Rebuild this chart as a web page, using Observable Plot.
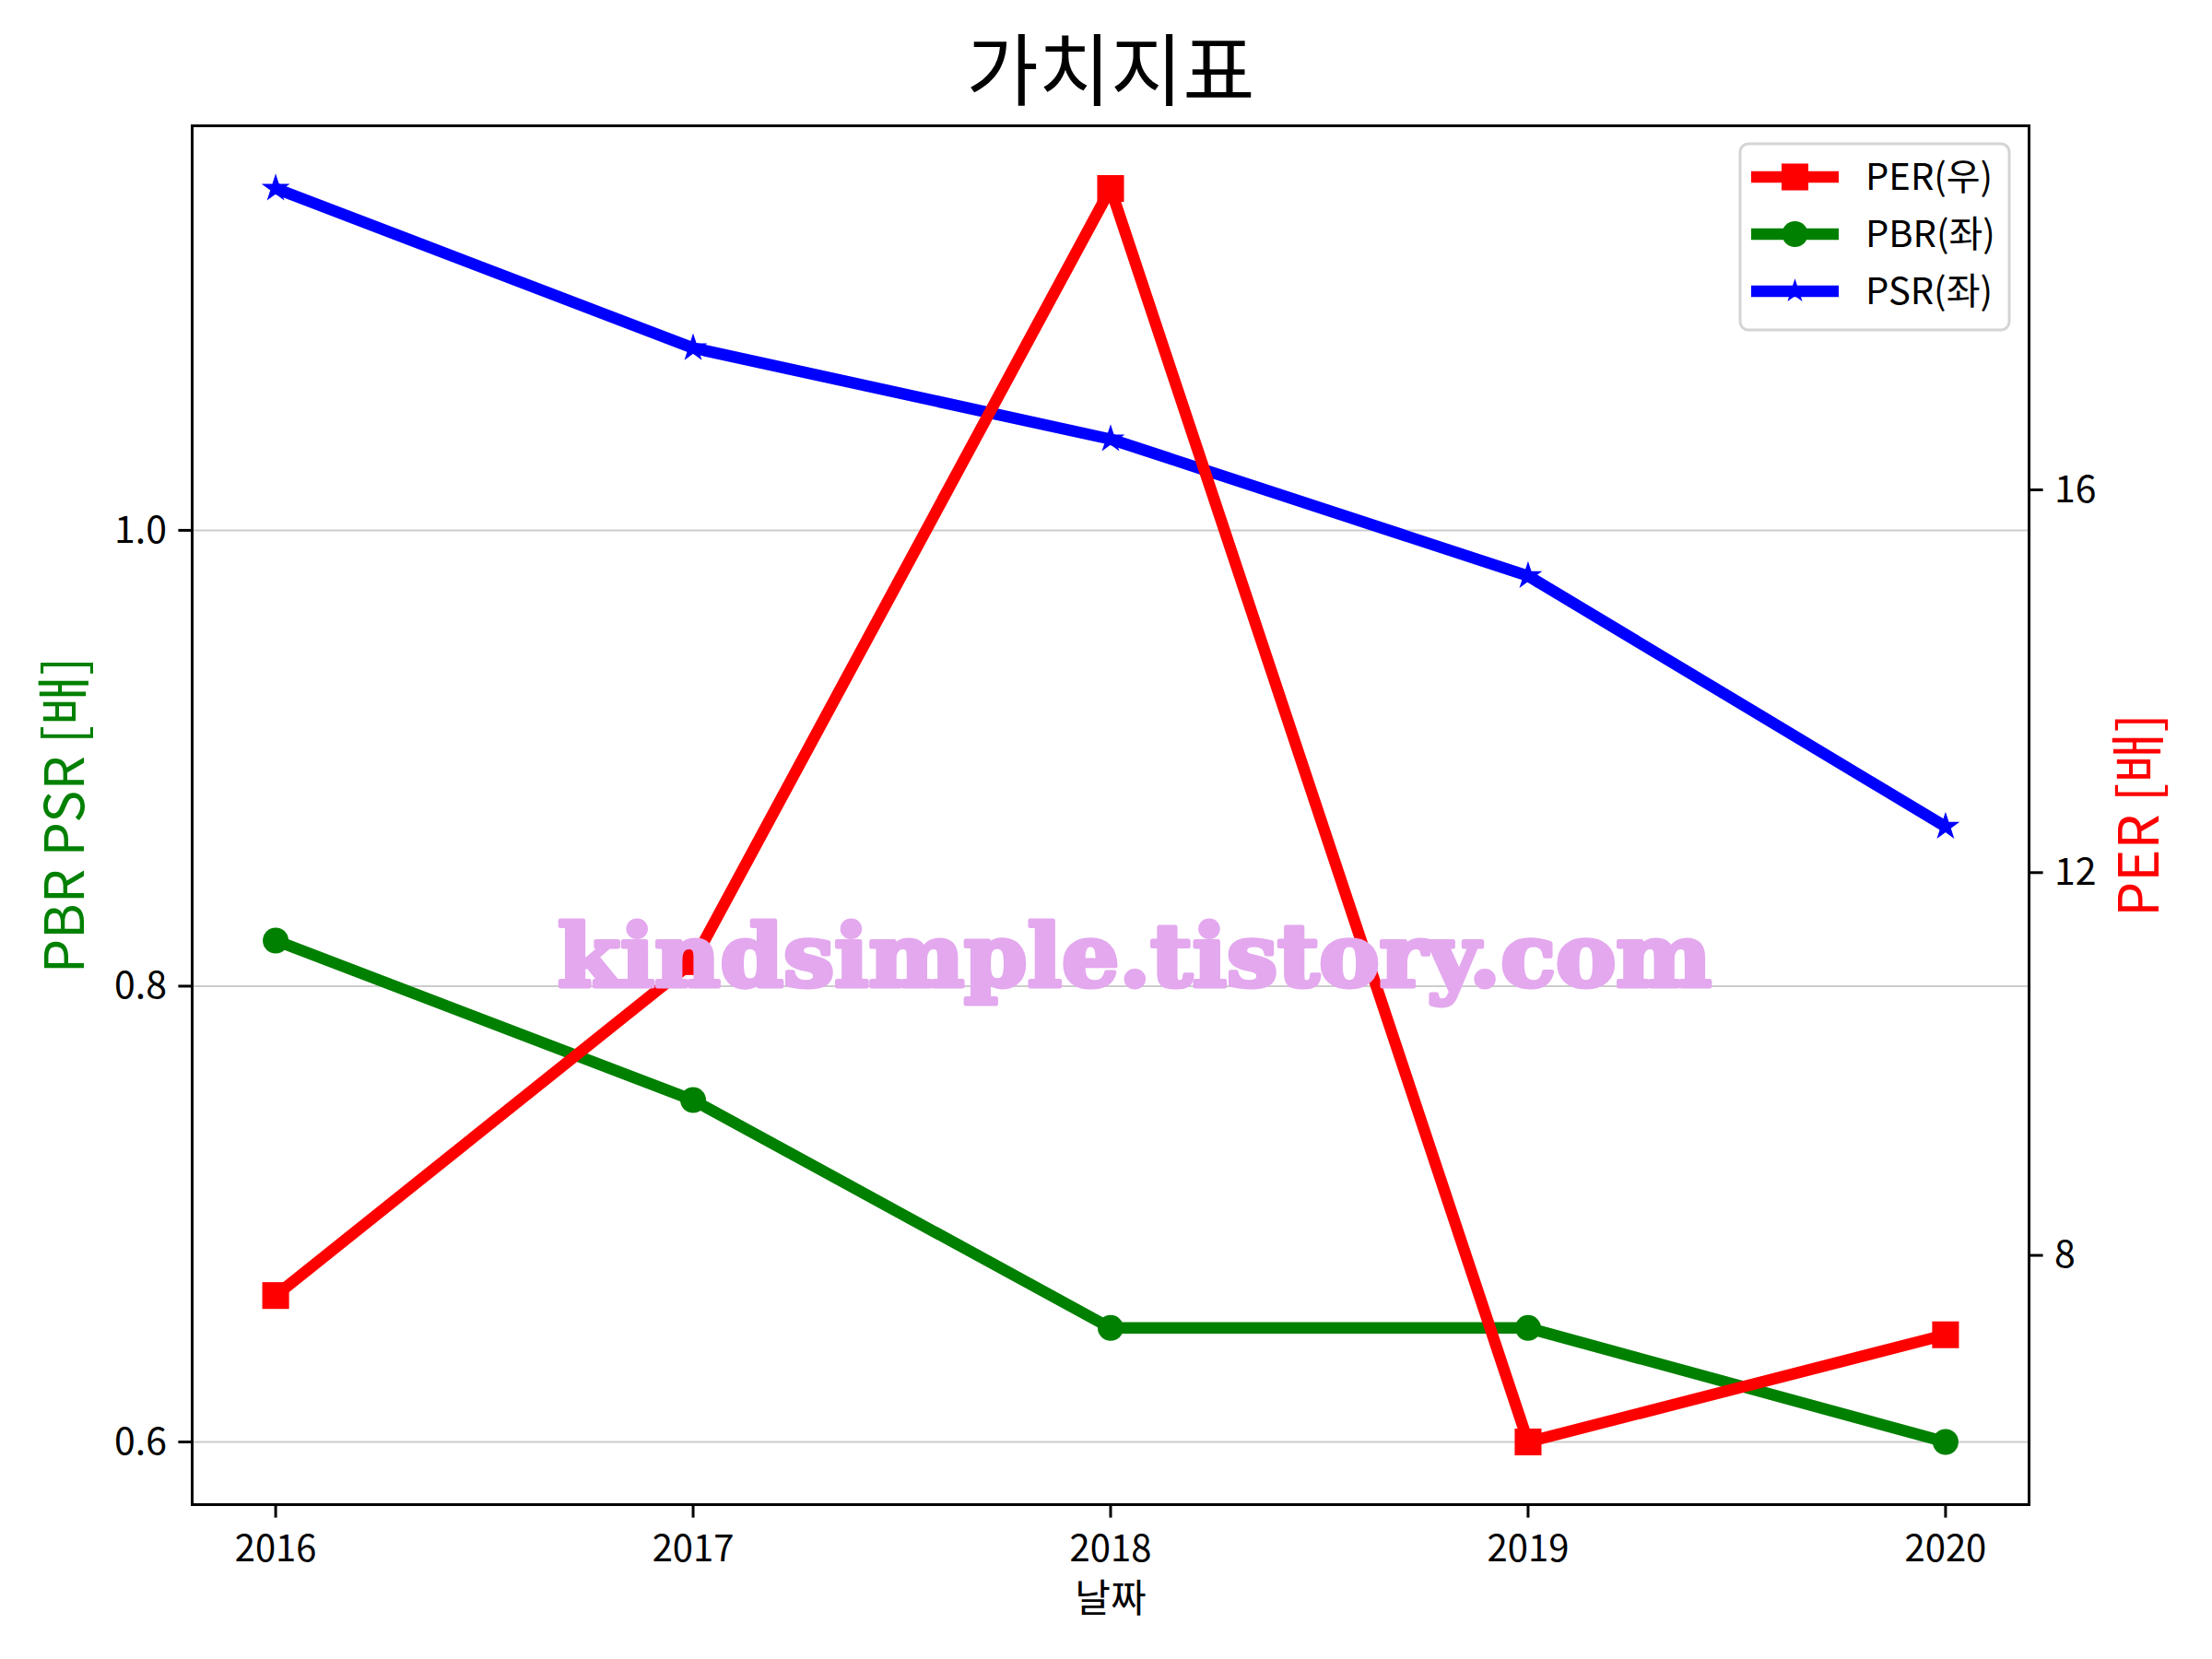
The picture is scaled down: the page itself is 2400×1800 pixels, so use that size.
<!DOCTYPE html>
<html>
<head>
<meta charset="utf-8">
<script src="https://cdn.jsdelivr.net/npm/d3@7"></script>
<script src="https://cdn.jsdelivr.net/npm/@observablehq/plot@0.6"></script>
<style>
  html, body { margin: 0; padding: 0; background: #ffffff; }
  #chart { width: 2400px; height: 1800px; }
</style>
</head>
<body>
<div id="chart"></div>
<script>
// ---- data ----
const years = [2016, 2017, 2018, 2019, 2020];
const perValues = [7.58, 11.07, 19.15, 6.05, 7.17];   // right axis
const pbrValues = [0.82, 0.75, 0.65, 0.65, 0.60];     // left axis
const psrValues = [1.15, 1.08, 1.04, 0.98, 0.87];     // left axis
const leftTicks = [0.6, 0.8, 1.0];
const rightTicks = [8, 12, 16];
const titleText = "가치지표";
const xLabel = "날짜";
const leftLabel = "PBR PSR [배]";
const rightLabel = "PER [배]";
const seriesNames = ["PER(우)", "PBR(좌)", "PSR(좌)"];
const watermark = "kindsimple.tistory.com";

// ---- scales (matplotlib-style 5% margins) ----
function padded(vals) {
  const lo = d3.min(vals), hi = d3.max(vals), p = 0.05 * (hi - lo);
  return [lo - p, hi + p];
}
const xDom = padded(years);
const yDom = padded(pbrValues.concat(psrValues));
const rDom = padded(perValues);
const toLeft = v => yDom[0] + (v - rDom[0]) / (rDom[1] - rDom[0]) * (yDom[1] - yDom[0]);
const fromLeft = v => rDom[0] + (v - yDom[0]) / (yDom[1] - yDom[0]) * (rDom[1] - rDom[0]);

const rows = years.map((year, i) => ({
  year, per: perValues[i], perL: toLeft(perValues[i]), pbr: pbrValues[i], psr: psrValues[i]
}));

const FONT = "'Noto Sans CJK KR', 'Noto Sans', sans-serif";
const LW = 12.5;

const svg = Plot.plot({
  width: 2400,
  height: 1800,
  marginLeft: 208,
  marginRight: 199,
  marginTop: 136,
  marginBottom: 168,
  style: { fontFamily: FONT, background: "#ffffff", color: "#000000", overflow: "visible" },
  x: { domain: xDom },
  y: { domain: yDom },
  marks: [
    Plot.gridY(leftTicks, { stroke: "#cccccc", strokeOpacity: 1, strokeWidth: 2 }),
    // PBR
    Plot.line(rows, { x: "year", y: "pbr", stroke: "green", strokeWidth: LW, strokeLinejoin: "round", strokeLinecap: "butt" }),
    Plot.dot(rows, { x: "year", y: "pbr", r: 14, fill: "green", symbol: "circle" }),
    // PSR
    Plot.line(rows, { x: "year", y: "psr", stroke: "blue", strokeWidth: LW, strokeLinejoin: "round", strokeLinecap: "butt" }),
    Plot.dot(rows, { x: "year", y: "psr", r: 8.2, fill: "blue", symbol: "star", stroke: "blue", strokeWidth: 1.5 }),
    // PER (right axis)
    Plot.line(rows, { x: "year", y: "perL", stroke: "red", strokeWidth: LW, strokeLinejoin: "round", strokeLinecap: "butt" }),
    Plot.dot(rows, { x: "year", y: "perL", r: 16.4, fill: "red", symbol: "square" }),
    Plot.frame({ stroke: "black", strokeWidth: 3 }),
    Plot.axisX(years, {
      anchor: "bottom", tickSize: 14.6, tickPadding: 18, strokeWidth: 3,
      fontSize: 40, tickFormat: d => String(d), label: null
    }),
    Plot.axisY(leftTicks, {
      anchor: "left", tickSize: 14.6, tickPadding: 13, strokeWidth: 3,
      fontSize: 41, tickFormat: d => d.toFixed(1), label: null
    }),
    Plot.axisY(rightTicks.map(toLeft), {
      anchor: "right", tickSize: 14.6, tickPadding: 13, strokeWidth: 3,
      fontSize: 41, tickFormat: d => String(Math.round(fromLeft(d))), label: null
    }),
    Plot.text([titleText], { text: d => d, frameAnchor: "top", dy: -56, lineAnchor: "middle", fontSize: 85, fill: "black" }),
    Plot.text([xLabel], { text: d => d, frameAnchor: "bottom", dy: 103, lineAnchor: "middle", fontSize: 42, fill: "black" }),
    Plot.text([leftLabel], { text: d => d, frameAnchor: "left", dx: -136, rotate: -90, textAnchor: "middle", lineAnchor: "middle", fontSize: 59, fill: "green" }),
    Plot.text([rightLabel], { text: d => d, frameAnchor: "right", dx: 121, rotate: -90, textAnchor: "middle", lineAnchor: "middle", fontSize: 60, fill: "red" })
  ]
});

const root = d3.select(svg);

// ---- watermark (figure text, drawn above the lines) ----
root.append("text")
  .attr("x", 1231).attr("y", 1070)
  .attr("text-anchor", "middle")
  .attr("font-family", "'DejaVu Serif', serif")
  .attr("font-weight", "bold")
  .attr("font-size", 94)
  .attr("textLength", 1252)
  .attr("lengthAdjust", "spacingAndGlyphs")
  .attr("fill", "#e3a8ee")
  .attr("stroke", "#e3a8ee")
  .attr("stroke-width", 5)
  .attr("stroke-linejoin", "round")
  .text(watermark);

// ---- legend ----
const lg = root.append("g").attr("font-family", FONT);
lg.append("rect")
  .attr("x", 1888).attr("y", 156).attr("width", 292).attr("height", 202)
  .attr("rx", 9).attr("fill", "white").attr("fill-opacity", 0.8)
  .attr("stroke", "#d4d4d4").attr("stroke-width", 3);
const legendItems = [
  { name: seriesNames[0], color: "red", symbol: d3.symbolSquare, size: 16.4 * 16.4 * Math.PI },
  { name: seriesNames[1], color: "green", symbol: d3.symbolCircle, size: 14 * 14 * Math.PI },
  { name: seriesNames[2], color: "blue", symbol: d3.symbolStar, size: 8.2 * 8.2 * Math.PI }
];
legendItems.forEach((it, i) => {
  const cy = 192 + i * 62;
  lg.append("line").attr("x1", 1900).attr("x2", 1995).attr("y1", cy).attr("y2", cy)
    .attr("stroke", it.color).attr("stroke-width", LW);
  lg.append("path").attr("transform", `translate(1947.5,${cy})`)
    .attr("d", d3.symbol(it.symbol, it.size)()).attr("fill", it.color);
  lg.append("text").attr("x", 2024).attr("y", cy).attr("dy", "0.35em")
    .attr("text-anchor", "start")
    .attr("font-size", 40).attr("fill", "black").text(it.name);
});

document.getElementById("chart").appendChild(svg);
</script>
</body>
</html>
